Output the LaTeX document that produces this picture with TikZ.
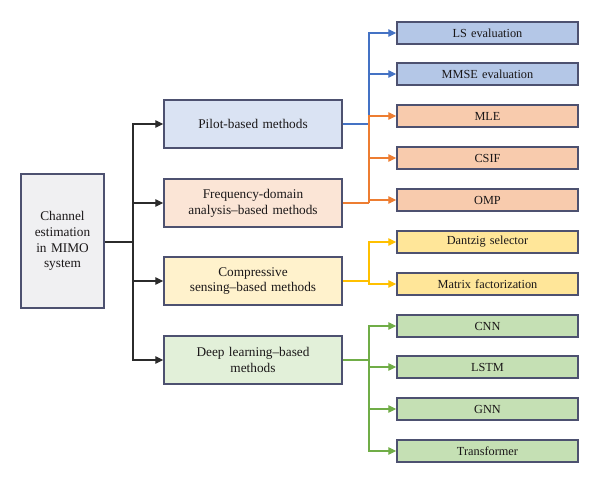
\documentclass[tikz,border=0pt]{standalone}
\usepackage{fontspec}
\setmainfont{Liberation Serif}
\usetikzlibrary{arrows.meta}
\definecolor{bordc}{HTML}{4D5170}
\definecolor{txtc}{HTML}{1A1718}
\definecolor{rootf}{HTML}{F0F0F2}
\definecolor{pilotf}{HTML}{DAE3F3}
\definecolor{freqf}{HTML}{FBE5D6}
\definecolor{compf}{HTML}{FFF2CC}
\definecolor{deepf}{HTML}{E2F0D9}
\definecolor{lbluef}{HTML}{B4C7E7}
\definecolor{lorangef}{HTML}{F8CBAD}
\definecolor{lyellowf}{HTML}{FFE699}
\definecolor{lgreenf}{HTML}{C5E0B4}
\definecolor{bluel}{HTML}{4472C4}
\definecolor{orangel}{HTML}{ED7D31}
\definecolor{yellowl}{HTML}{FFC000}
\definecolor{greenl}{HTML}{70AD47}
\definecolor{blackl}{HTML}{2B2B2B}
\tikzset{
  box/.style={draw=bordc, line width=1.4pt, rectangle, inner sep=2pt, text=txtc, align=center},
  rootbox/.style={box, fill=rootf, minimum width=83pt, minimum height=134pt, text width=78pt, font=\fontsize{13.3}{15.7}\selectfont},
  midbox/.style={box, minimum width=178pt, minimum height=48pt, text width=170pt, font=\fontsize{13.3}{15.7}\selectfont},
  leafbox/.style={box, minimum width=181pt, minimum height=22pt, text width=175pt, font=\fontsize{12.3}{14}\selectfont},
  conn/.style={line width=1.2pt},
  arr/.style={conn, -{Triangle[length=8pt,width=7.5pt]}}
}
\begin{document}
\begin{tikzpicture}[x=1pt,y=-1pt]
\useasboundingbox (0,0) rectangle (600,484);
% root
\node[rootbox] (root) at (62.5,241) {Channel\\estimation\\in MIMO\\system};
% mid boxes
\node[midbox, fill=pilotf] (pilot) at (253,124) {Pilot-based methods};
\node[midbox, fill=freqf] (freq) at (253,203) {Frequency-domain\\analysis–based methods};
\node[midbox, fill=compf] (comp) at (253,281) {Compressive\\sensing–based methods};
\node[midbox, fill=deepf] (deep) at (253,360) {Deep learning–based\\methods};
% leaves
\node[leafbox, fill=lbluef] (ls) at (487.5,33) {LS evaluation};
\node[leafbox, fill=lbluef] (mmse) at (487.5,74) {MMSE evaluation};
\node[leafbox, fill=lorangef] (mle) at (487.5,116) {MLE};
\node[leafbox, fill=lorangef] (csif) at (487.5,158) {CSIF};
\node[leafbox, fill=lorangef] (omp) at (487.5,200) {OMP};
\node[leafbox, fill=lyellowf] (dantzig) at (487.5,242) {Dantzig selector};
\node[leafbox, fill=lyellowf] (matrix) at (487.5,284) {Matrix factorization};
\node[leafbox, fill=lgreenf] (cnn) at (487.5,326) {CNN};
\node[leafbox, fill=lgreenf] (lstm) at (487.5,367) {LSTM};
\node[leafbox, fill=lgreenf] (gnn) at (487.5,409) {GNN};
\node[leafbox, fill=lgreenf] (trans) at (487.5,451) {Transformer};
% junctions
\coordinate (j) at (133,242);
\coordinate (bj) at (369,124);
\coordinate (oj) at (369,203);
\coordinate (yj) at (369,281);
\coordinate (gj) at (369,360);
% black connectors
\draw[conn, blackl] (root.east |- j) -- (j);
\draw[arr, blackl] (j) |- (pilot.west);
\draw[arr, blackl] (j) |- (freq.west);
\draw[arr, blackl] (j) |- (comp.west);
\draw[arr, blackl] (j) |- (deep.west);
% blue
\draw[conn, bluel] (pilot.east) -- (bj);
\draw[arr, bluel] (bj) |- (ls.west);
\draw[arr, bluel] (bj) |- (mmse.west);
% orange
\draw[conn, orangel] (freq.east) -- (oj);
\draw[arr, orangel] (oj) |- (mle.west);
\draw[arr, orangel] (oj) |- (csif.west);
\draw[arr, orangel] (oj) |- (omp.west);
% yellow
\draw[conn, yellowl] (comp.east) -- (yj);
\draw[arr, yellowl] (yj) |- (dantzig.west);
\draw[arr, yellowl] (yj) |- (matrix.west);
% green
\draw[conn, greenl] (deep.east) -- (gj);
\draw[arr, greenl] (gj) |- (cnn.west);
\draw[arr, greenl] (gj) |- (lstm.west);
\draw[arr, greenl] (gj) |- (gnn.west);
\draw[arr, greenl] (gj) |- (trans.west);
\end{tikzpicture}
\end{document}
